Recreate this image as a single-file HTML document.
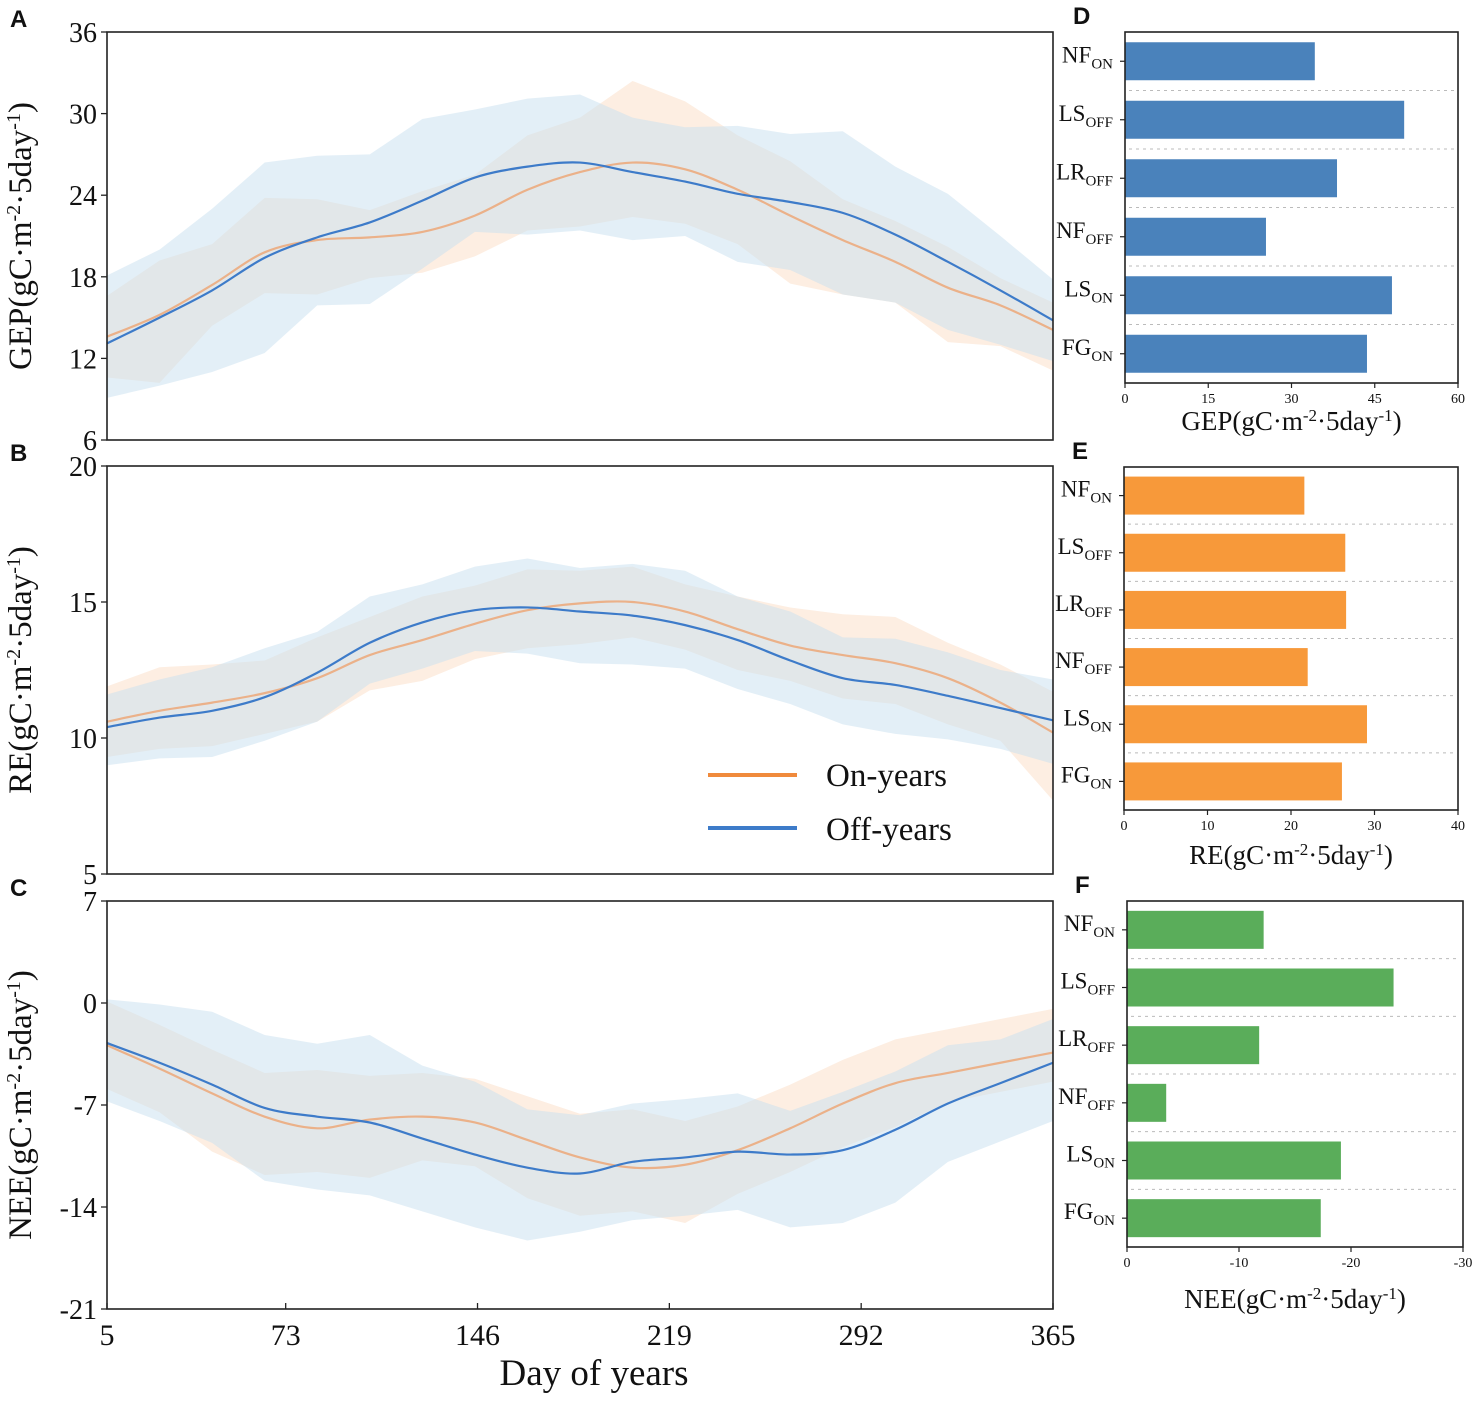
<!DOCTYPE html>
<html><head><meta charset="utf-8"><style>
body{margin:0;background:#fff}
svg text{font-family:"Liberation Serif",serif;fill:#111}
.lt{font-family:"Liberation Sans",sans-serif;font-weight:bold}
</style></head><body>
<svg id="fig" width="1476" height="1396" viewBox="0 0 1476 1396" xmlns="http://www.w3.org/2000/svg"></svg>
<script>
const days=[5,25,45,65,85,105,125,145,165,185,205,225,245,265,285,305,325,345,365];
const gepOn=[13.6,15.2,17.4,19.8,20.7,20.9,21.3,22.5,24.4,25.7,26.4,25.9,24.4,22.5,20.7,19.1,17.2,15.9,14.1];
const gepOff=[13.1,15.0,17.0,19.4,20.9,22.0,23.6,25.3,26.1,26.4,25.7,25.0,24.1,23.5,22.7,21.1,19.1,17.0,14.8];
const gepOnUp=[3,4,3,4,3,2,3,3,4,4,6,5,4,4,3,3,3,2,2];
const gepOnDn=[3,5,3,3,4,3,3,3,3,4,4,4,4,5,4,3,4,3,3];
const gepOffUp=[5,5,6,7,6,5,6,5,5,5,4,4,5,5,6,5,5,4,3];
const gepOffDn=[4,5,6,7,5,6,5,4,5,5,5,4,5,5,6,5,5,4,3];
const reOn=[10.6,11.0,11.3,11.65,12.2,13.05,13.6,14.2,14.7,14.95,15.0,14.65,14.0,13.4,13.05,12.75,12.2,11.3,10.2];
const reOff=[10.4,10.75,11.0,11.5,12.4,13.5,14.25,14.7,14.8,14.65,14.5,14.15,13.6,12.85,12.2,11.95,11.55,11.1,10.65];
const reOnUp=[1.3,1.6,1.4,1.2,1.5,1.4,1.6,1.4,1.5,1.2,1.3,1.0,1.2,1.4,1.5,1.7,1.3,1.4,1.5];
const reOnDn=[1.3,1.4,1.6,1.5,1.6,1.3,1.5,1.3,1.4,1.5,1.3,1.4,1.5,1.3,1.6,1.5,1.7,1.4,2.5];
const reOffUp=[1.2,1.4,1.6,1.8,1.5,1.7,1.4,1.6,1.8,1.6,1.9,2.0,1.6,1.8,1.5,1.7,1.6,1.4,1.5];
const reOffDn=[1.4,1.5,1.7,1.6,1.8,1.5,1.7,1.5,1.7,1.9,1.8,1.6,1.8,1.6,1.7,1.8,1.6,1.5,1.6];
const neeOn=[-2.9,-4.5,-6.2,-7.8,-8.6,-8.0,-7.8,-8.2,-9.4,-10.6,-11.3,-11.1,-10.1,-8.6,-6.9,-5.5,-4.8,-4.1,-3.4];
const neeOff=[-2.75,-4.1,-5.6,-7.2,-7.8,-8.2,-9.3,-10.4,-11.3,-11.7,-10.9,-10.6,-10.2,-10.4,-10.1,-8.7,-6.9,-5.5,-4.1];
const neeOnUp=[3,3,3,3,4,3,3,3,3,3,4,3,3,3,3,3,3,3,3];
const neeOnDn=[3,3,4,4,3,4,3,3,4,4,3,4,3,3,3,3,2,2,2];
const neeOffUp=[3,4,5,5,5,6,5,5,4,4,4,4,4,3,4,4,4,3,3];
const neeOffDn=[4,4,4,5,5,5,5,5,5,4,4,4,4,5,5,5,4,4,4];
const barCats=["NF|ON","LS|OFF","LR|OFF","NF|OFF","LS|ON","FG|ON"];
const gepBars=[34.2,50.3,38.2,25.4,48.1,43.6];
const reBars=[21.6,26.5,26.6,22.0,29.1,26.1];
const neeBars=[12.2,23.8,11.8,3.5,19.1,17.3];
const xTicks=[5,73,146,219,292,365];
const gepTicks=[6,12,18,24,30,36];
const reTicks=[5,10,15,20];
const neeTicks=[-21,-14,-7,0,7];
const gepBarTicks=[0,15,30,45,60];
const reBarTicks=[0,10,20,30,40];
const neeBarTicks=[0,-10,-20,-30];

const svg=document.getElementById('fig');const NS='http://www.w3.org/2000/svg';
function el(t,a,p){const e=document.createElementNS(NS,t);for(const k in a)e.setAttribute(k,a[k]);(p||svg).appendChild(e);return e;}
function txt(s,a,p){const e=el('text',a,p);e.textContent=s;return e;}
const X0=107,X1=1053;const xs=d=>X0+(d-5)/(360)*(X1-X0);
function smooth(pts){let d='M'+pts[0][0]+','+pts[0][1];for(let i=0;i<pts.length-1;i++){const p0=pts[Math.max(0,i-1)],p1=pts[i],p2=pts[i+1],p3=pts[Math.min(pts.length-1,i+2)];
d+=' C'+(p1[0]+(p2[0]-p0[0])/6)+','+(p1[1]+(p2[1]-p0[1])/6)+' '+(p2[0]-(p3[0]-p1[0])/6)+','+(p2[1]-(p3[1]-p1[1])/6)+' '+p2[0]+','+p2[1];}return d;}
function linePanel(name,top,bot,ymin,ymax,ticks,on,off,onU,onD,offU,offD,title,letter,showX){
  const g=el('g',{});
  const ys=v=>bot-(v-ymin)/(ymax-ymin)*(bot-top);
  function band(m,u,dn,fill,nm){let up=days.map((d,i)=>xs(d)+','+ys(m[i]+u[i]));let lo=days.map((d,i)=>xs(d)+','+ys(m[i]-dn[i])).reverse();
    const p=el('polygon',{points:up.concat(lo).join(' '),fill:fill},g);}
  band(on,onU,onD,'rgb(253,238,226)',name+'-on-band');
  band(off,offU,offD,'rgba(199,223,239,0.5)',name+'-off-band');
  const lo=el('path',{d:smooth(days.map((d,i)=>[xs(d),ys(on[i])])),fill:'none',stroke:'#ebb189','stroke-width':2.2},g);
  
  const lf=el('path',{d:smooth(days.map((d,i)=>[xs(d),ys(off[i])])),fill:'none',stroke:'#3d7bc9','stroke-width':2.2},g);
  
  const fr=el('rect',{x:X0,y:top,width:X1-X0,height:bot-top,fill:'none',stroke:'#222','stroke-width':1.6},g);
  
  ticks.forEach(t=>{const y=ys(t);el('line',{x1:X0-6,x2:X0,y1:y,y2:y,stroke:'#222','stroke-width':1.3},g);
    const tl=txt(String(t),{x:X0-10,y:y+10,'font-size':28,'text-anchor':'end'},g);});
  if(showX){xTicks.forEach(t=>{const x=xs(t);el('line',{x1:x,x2:x,y1:bot,y2:bot-6,stroke:'#222','stroke-width':1.3},g);
    const tl=txt(String(t),{x:x,y:bot+36,'font-size':30,'text-anchor':'middle'},g);});}
  const cy=(top+bot)/2;
  const t=el('text',{x:0,y:0,'font-size':33,'text-anchor':'middle',transform:'translate(31,'+cy+') rotate(-90)'},g);
  
  t.innerHTML=title+'(gC·m<tspan baseline-shift="super" font-size="20">-2</tspan>·5day<tspan baseline-shift="super" font-size="20">-1</tspan>)';
  const L=txt(letter,{x:10,y:top-5,'font-size':24,class:'lt'},g);
}
linePanel('gep',32,440,6,36,gepTicks,gepOn,gepOff,gepOnUp,gepOnDn,gepOffUp,gepOffDn,'GEP','A',false);
linePanel('re',466,874,5,20,reTicks,reOn,reOff,reOnUp,reOnDn,reOffUp,reOffDn,'RE','B',false);
linePanel('nee',901,1309,-21,7,neeTicks,neeOn,neeOff,neeOnUp,neeOnDn,neeOffUp,neeOffDn,'NEE','C',true);
const xt=txt('Day of years',{x:594,y:1385,'font-size':37,'text-anchor':'middle'});
const lg=el('g',{});
el('line',{x1:708,x2:797,y1:775,y2:775,stroke:'#f08a3c','stroke-width':4},lg);
const l1=txt('On-years',{x:826,y:786,'font-size':33},lg);
el('line',{x1:708,x2:797,y1:828,y2:828,stroke:'#3d7bc9','stroke-width':4},lg);
const l2=txt('Off-years',{x:826,y:840,'font-size':33},lg);

function barPanel(name,x0,x1,top,bot,vmax,ticks,vals,color,title,letter,tickY){
  const g=el('g',{});
  const sx=v=>x0+Math.abs(v)/vmax*(x1-x0);const band=(bot-top)/6;
  for(let i=1;i<6;i++){el('line',{x1:x0+4,x2:x1-4,y1:top+band*i,y2:top+band*i,stroke:'#bbb','stroke-width':1,'stroke-dasharray':'3,4'},g);}
  vals.forEach((v,i)=>{const cy=top+band*(i+0.5);
    const r=el('rect',{x:x0,y:cy-19,width:sx(v)-x0,height:38,fill:color},g);
    el('line',{x1:x0-5,x2:x0,y1:cy,y2:cy,stroke:'#222','stroke-width':1.2},g);
    const [a,b]=barCats[i].split('|');const t=el('text',{x:x0-12,y:cy+1,'font-size':23,'text-anchor':'end'},g);
    t.innerHTML=a+'<tspan font-size="15" dy="6">'+b+'</tspan>';});
  const fr=el('rect',{x:x0,y:top,width:x1-x0,height:bot-top,fill:'none',stroke:'#222','stroke-width':1.6},g);
  ticks.forEach(t=>{const x=sx(t);el('line',{x1:x,x2:x,y1:bot,y2:bot+5,stroke:'#222','stroke-width':1.2},g);
    const tl=txt(String(t),{x:x,y:bot+20,'font-size':14,'text-anchor':'middle'},g);});
  const tt=el('text',{x:(x0+x1)/2,y:tickY,'font-size':27,'text-anchor':'middle'},g);
  tt.innerHTML=title+'(gC·m<tspan baseline-shift="super" font-size="17">-2</tspan>·5day<tspan baseline-shift="super" font-size="17">-1</tspan>)';
  
  const L=txt(letter,{x:x0-52,y:top-8,'font-size':24,class:'lt'},g);
}
barPanel('gep',1125,1458,32,383,60,gepBarTicks,gepBars,'#4a82bb','GEP','D',430);
barPanel('re',1124,1458,467,810,40,reBarTicks,reBars,'#f7993a','RE','E',864);
barPanel('nee',1127,1463,901,1247,30,neeBarTicks,neeBars,'#5aad5a','NEE','F',1308);
</script>
</body></html>
